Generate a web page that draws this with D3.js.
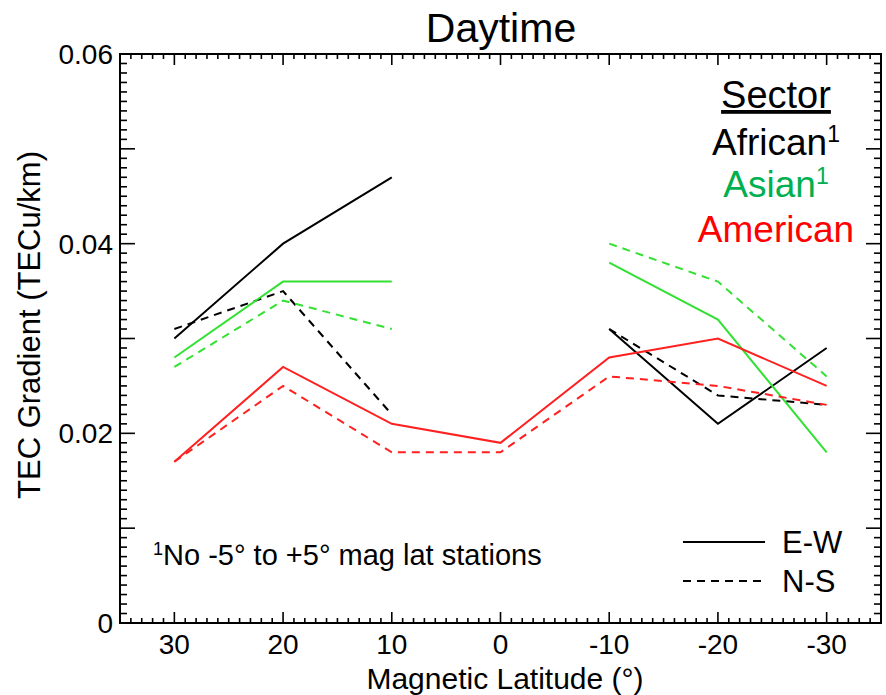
<!DOCTYPE html>
<html>
<head>
<meta charset="utf-8">
<script src="https://cdn.jsdelivr.net/npm/d3@7"></script>
<style>
  body { margin: 0; background: #fff; }
  svg text { font-family: "Liberation Sans", Arial, sans-serif; }
</style>
</head>
<body>
<div id="chart-area"><svg></svg></div>
<script>
const chartSize = { width: 886, height: 695 };
const margin = { left: 120, right: 5, top: 54, bottom: 72 };

const width = chartSize.width - margin.left - margin.right;
const height = chartSize.height - margin.top - margin.bottom;

// magnetic latitude of each station group
const latNorth = [30, 20, 10];
const latSouth = [-10, -20, -30];
const latAll = [30, 20, 10, 0, -10, -20, -30];
const xTicks = [30, 20, 10, 0, -10, -20, -30];
const yTickLabels = [0, 0.02, 0.04, 0.06];

// TEC gradient values (TECu/km)
const africanEW_N = [0.030, 0.040, 0.047];
const africanNS_N = [0.031, 0.035, 0.022];
const africanEW_S = [0.031, 0.021, 0.029];
const africanNS_S = [0.031, 0.024, 0.023];
const asianEW_N = [0.028, 0.036, 0.036];
const asianNS_N = [0.027, 0.034, 0.031];
const asianEW_S = [0.038, 0.032, 0.018];
const asianNS_S = [0.040, 0.036, 0.026];
const americanEW = [0.017, 0.027, 0.021, 0.019, 0.028, 0.030, 0.025];
const americanNS = [0.017, 0.025, 0.018, 0.018, 0.026, 0.025, 0.023];

const colors = { african: "#000000", asian: "#33e033", american: "#ff2020" };

const series = [
  { lat: latNorth, values: africanEW_N, color: colors.african, dash: null },
  { lat: latNorth, values: africanNS_N, color: colors.african, dash: "8,6" },
  { lat: latSouth, values: africanEW_S, color: colors.african, dash: null },
  { lat: latSouth, values: africanNS_S, color: colors.african, dash: "8,6" },
  { lat: latNorth, values: asianEW_N, color: colors.asian, dash: null },
  { lat: latNorth, values: asianNS_N, color: colors.asian, dash: "8,6" },
  { lat: latSouth, values: asianEW_S, color: colors.asian, dash: null },
  { lat: latSouth, values: asianNS_S, color: colors.asian, dash: "8,6" },
  { lat: latAll, values: americanEW, color: colors.american, dash: null },
  { lat: latAll, values: americanNS, color: colors.american, dash: "8,6" }
];

const svg = d3.select("#chart-area svg")
  .attr("width", chartSize.width)
  .attr("height", chartSize.height);

const g = svg.append("g")
  .attr("transform", `translate(${margin.left}, ${margin.top})`);

const x = d3.scaleLinear().domain([35, -35]).range([0, width]);
const y = d3.scaleLinear().domain([0, 0.06]).range([height, 0]);

// minor / major ticks on all four sides
const xMinor = d3.range(-35, 36, 1);
const yMinor = d3.range(0, 61, 1).map(v => v / 1000);

const ticks = g.append("g").attr("stroke", "#000").attr("stroke-width", 1.6);

xMinor.forEach(v => {
  const len = v % 10 === 0 ? 11 : 5;
  ticks.append("line").attr("x1", x(v)).attr("x2", x(v)).attr("y1", height).attr("y2", height - len);
  ticks.append("line").attr("x1", x(v)).attr("x2", x(v)).attr("y1", 0).attr("y2", len);
});

yMinor.forEach(v => {
  const len = Math.round(v * 1000) % 10 === 0 ? 15 : 7;
  ticks.append("line").attr("x1", 0).attr("x2", len).attr("y1", y(v)).attr("y2", y(v));
  ticks.append("line").attr("x1", width).attr("x2", width - len).attr("y1", y(v)).attr("y2", y(v));
});

g.append("rect")
  .attr("width", width)
  .attr("height", height)
  .attr("fill", "none")
  .attr("stroke", "#000")
  .attr("stroke-width", 2);

// tick labels
g.selectAll(".xlab")
  .data(xTicks)
  .join("text")
  .attr("x", d => x(d))
  .attr("y", height + 31)
  .attr("text-anchor", "middle")
  .attr("font-size", 28)
  .text(d => d);

g.selectAll(".ylab")
  .data(yTickLabels)
  .join("text")
  .attr("x", -7)
  .attr("y", d => y(d))
  .attr("dy", "0.36em")
  .attr("text-anchor", "end")
  .attr("font-size", 28)
  .text(d => d === 0 ? "0" : d.toFixed(2));

// data lines
const line = d3.line()
  .x(d => x(d[0]))
  .y(d => y(d[1]));

g.selectAll(".series")
  .data(series)
  .join("path")
  .attr("fill", "none")
  .attr("stroke", d => d.color)
  .attr("stroke-width", 2)
  .attr("stroke-dasharray", d => d.dash)
  .attr("d", d => line(d3.zip(d.lat, d.values)));

// titles
svg.append("text")
  .attr("x", 501)
  .attr("y", 42)
  .attr("text-anchor", "middle")
  .attr("font-size", 41)
  .text("Daytime");

svg.append("text")
  .attr("x", 505)
  .attr("y", 689)
  .attr("text-anchor", "middle")
  .attr("font-size", 30)
  .text("Magnetic Latitude (°)");

svg.append("text")
  .attr("transform", "translate(40, 325) rotate(-90)")
  .attr("text-anchor", "middle")
  .attr("font-size", 31)
  .text("TEC Gradient (TECu/km)");

// sector legend
const legX = 776;
svg.append("text")
  .attr("x", legX).attr("y", 108)
  .attr("text-anchor", "middle")
  .attr("font-size", 38)
  .attr("text-decoration", "underline")
  .text("Sector");

const sectors = [
  { name: "African", sup: true, color: "#000000", y: 155 },
  { name: "Asian", sup: true, color: "#00b050", y: 197 },
  { name: "American", sup: false, color: "#ff0000", y: 242 }
];
sectors.forEach(s => {
  const t = svg.append("text")
    .attr("x", legX).attr("y", s.y)
    .attr("text-anchor", "middle")
    .attr("font-size", 37)
    .attr("fill", s.color);
  t.append("tspan").text(s.name);
  if (s.sup) t.append("tspan").attr("font-size", 23).attr("dy", -13).text("1");
});

// line-style legend
const styles = [
  { label: "E-W", dash: null, y: 542 },
  { label: "N-S", dash: "8,6", y: 581 }
];
styles.forEach(s => {
  svg.append("line")
    .attr("x1", 683).attr("x2", 765)
    .attr("y1", s.y).attr("y2", s.y)
    .attr("stroke", "#000").attr("stroke-width", 2)
    .attr("stroke-dasharray", s.dash);
  svg.append("text")
    .attr("x", 782).attr("y", s.y + 11)
    .attr("font-size", 31)
    .text(s.label);
});

// footnote
const fn = svg.append("text")
  .attr("x", 153).attr("y", 565)
  .attr("font-size", 29);
fn.append("tspan").attr("font-size", 18).attr("dy", -10).text("1");
fn.append("tspan").attr("dy", 10).text("No -5° to +5° mag lat stations");
</script>
</body>
</html>
